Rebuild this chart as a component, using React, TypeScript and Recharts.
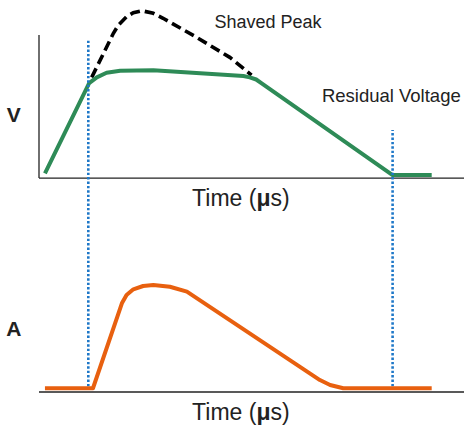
import {
  ComposedChart,
  Line,
  XAxis,
  YAxis,
  ReferenceLine,
  ReferenceDot,
} from 'recharts'

// time axis in µs (arbitrary units), voltage / current in % of full scale
const timeV = [1.4, 11.8, 13.6, 15.9, 19.1, 26.9, 48.1, 49.6, 51.1, 52.4, 83.2, 92.4]
const voltV = [3.3, 66.4, 70.4, 73.6, 75.0, 75.3, 71.3, 70.4, 68.9, 66.2, 2.1, 2.1]

const timePeak = [12.4, 17.5, 18.7, 20.6, 22.2, 24.2, 26.9, 29.2, 37.1, 44.9, 50.0]
const voltPeak = [70.4, 101.2, 107.0, 112.8, 115.6, 117.0, 115.2, 111.7, 98.4, 84.4, 72.0]

const timeA = [1.4, 12.7, 19.5, 20.6, 22.2, 24.5, 26.9, 30.8, 34.8, 66.1, 68.5, 71.6, 92.4]
const ampA = [2.6, 2.6, 61.6, 67.4, 71.3, 73.6, 74.3, 73.1, 69.7, 8.3, 4.9, 2.6, 2.6]

// clamp start / end markers
const markerTimes = [11.6, 83.2]
const markerTops = [96.5, 33.6]
const markerBottom = -145.6

const voltData = timeV.map((x, i) => ({ x, y: voltV[i] }))
const peakData = timePeak.map((x, i) => ({ x, y: voltPeak[i] }))
const ampData = timeA.map((x, i) => ({ x, y: ampA[i] }))

const FONT = '"Liberation Sans", Arial, sans-serif'
const AXIS = '#222'

function TimeCaption(props: any) {
  const { viewBox } = props
  return (
    <text x={viewBox.x} y={viewBox.y} textAnchor="middle" fontFamily={FONT} fontSize={23} fill="#222">
      Time (<tspan fontWeight="bold">μ</tspan>s)
    </text>
  )
}

const note = (value: string, size: number, bold = false) => ({
  value,
  position: 'center' as const,
  fontSize: size,
  fontWeight: bold ? 'bold' : 'normal',
  fill: '#222',
  fontFamily: FONT,
})

export default function App() {
  return (
    <div style={{ position: 'absolute', left: 0, top: 0, width: 464, height: 425, background: '#fff' }}>
      <ComposedChart width={464} height={425} margin={{ top: 6, right: 0, bottom: 0, left: 39 }}>
        <XAxis
          type="number"
          dataKey="x"
          domain={[0, 100]}
          tick={false}
          tickLine={false}
          height={33}
          axisLine={{ stroke: AXIS, strokeWidth: 1.3 }}
        />
        <YAxis yAxisId="v" type="number" domain={[-149.6, 120.3]} allowDataOverflow hide />
        <YAxis yAxisId="a" type="number" domain={[0, 268]} allowDataOverflow hide />

        {/* axis frames */}
        <ReferenceLine yAxisId="v" y={0} stroke={AXIS} strokeWidth={1.3} />
        <ReferenceLine yAxisId="v" segment={[{ x: 0, y: 0 }, { x: 0, y: 100 }]} stroke={AXIS} strokeWidth={1.3} />
        <ReferenceLine yAxisId="a" segment={[{ x: -0.25, y: 0 }, { x: -0.25, y: 100 }]} stroke={AXIS} strokeWidth={1.3} />

        <Line
          yAxisId="v"
          data={peakData}
          dataKey="y"
          type="linear"
          stroke="#000"
          strokeWidth={3.6}
          strokeDasharray="10 5"
          dot={false}
          activeDot={false}
          isAnimationActive={false}
        />
        <Line
          yAxisId="v"
          data={voltData}
          dataKey="y"
          type="linear"
          stroke="#2e8b57"
          strokeWidth={4}
          strokeLinejoin="round"
          dot={false}
          activeDot={false}
          isAnimationActive={false}
        />

        {markerTimes.map((t, i) => (
          <ReferenceLine
            key={t}
            yAxisId="v"
            segment={[{ x: t, y: markerBottom }, { x: t, y: markerTops[i] }]}
            stroke="#1f78c8"
            strokeWidth={2.6}
            strokeDasharray="2.4 2"
          />
        ))}

        <Line
          yAxisId="a"
          data={ampData}
          dataKey="y"
          type="linear"
          stroke="#e8600f"
          strokeWidth={4}
          strokeLinejoin="round"
          dot={false}
          activeDot={false}
          isAnimationActive={false}
        />

        <ReferenceDot yAxisId="v" x={53.9} y={109.1} r={0} fill="none" stroke="none" ifOverflow="visible" label={note('Shaved Peak', 18)} />
        <ReferenceDot yAxisId="v" x={82.9} y={57.7} r={0} fill="none" stroke="none" ifOverflow="visible" label={note('Residual Voltage', 18.5)} />
        <ReferenceDot yAxisId="v" x={-5.95} y={44.4} r={0} fill="none" stroke="none" ifOverflow="visible" label={note('V', 21, true)} />
        <ReferenceDot yAxisId="a" x={-5.95} y={44.1} r={0} fill="none" stroke="none" ifOverflow="visible" label={note('A', 21, true)} />
        <ReferenceDot yAxisId="v" x={47.5} y={-19.6} r={0} fill="none" stroke="none" ifOverflow="visible" label={<TimeCaption />} />
        <ReferenceDot yAxisId="a" x={47.5} y={-19.4} r={0} fill="none" stroke="none" ifOverflow="visible" label={<TimeCaption />} />
      </ComposedChart>
    </div>
  )
}
